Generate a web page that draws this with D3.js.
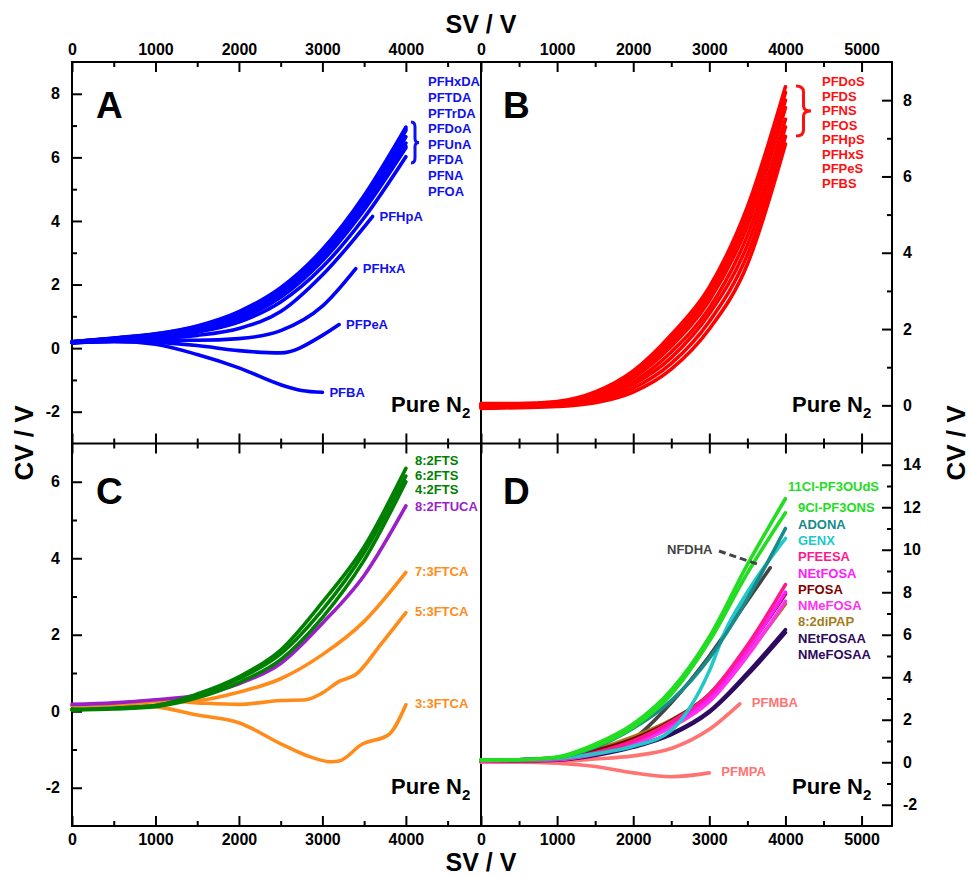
<!DOCTYPE html>
<meta charset="utf-8">

<head>
  <title>cv-sv-pfas</title>
</head>

<style>
  body {
    margin: 0;
    background: #fff;
  }

  svg text {
    font-family: Arial, "Liberation Sans", sans-serif;
    font-weight: bold;
  }

  .tick line {
    stroke: #000;
    stroke-width: 2;
  }

  .tick text {
    font-size: 16px;
    fill: #000;
  }

  .curve {
    fill: none;
    stroke-width: 3.6;
    stroke-linecap: round;
    stroke-linejoin: round;
  }
</style>

<body>
  <div id="content">
    <svg width="971" height="878">
    </svg>
  </div>

  <script src="https://cdnjs.cloudflare.com/ajax/libs/d3/7.8.5/d3.min.js"></script>
  <script>
    // common SV steps (V)
    var svGrid = [0, 500, 1000, 1500, 2000, 2500, 3000, 3500, 4000]

    // ---- panel A : PFCAs
    var namesA = ['PFHxDA', 'PFTDA', 'PFTrDA', 'PFDoA', 'PFUnA', 'PFDA', 'PFNA', 'PFOA',
      'PFHpA', 'PFHxA', 'PFPeA', 'PFBA']
    var svA = [svGrid, svGrid, svGrid, svGrid, svGrid, svGrid, svGrid, svGrid,
      [0, 500, 1000, 1500, 2000, 2500, 3000, 3600],
      [0, 500, 1000, 1500, 2000, 2500, 3000, 3400],
      [0, 500, 1000, 1500, 2000, 2500, 3000, 3200],
      [0, 500, 1000, 1500, 2000, 2500, 2750, 3000]
    ]
    var cvA = [
      [0.2, 0.32, 0.45, 0.7, 1.15, 1.9, 3.1, 4.8, 6.95],
      [0.2, 0.31, 0.44, 0.68, 1.1, 1.85, 3.0, 4.75, 6.9],
      [0.2, 0.3, 0.42, 0.65, 1.05, 1.8, 2.95, 4.65, 6.85],
      [0.2, 0.3, 0.4, 0.62, 1.0, 1.75, 2.9, 4.55, 6.65],
      [0.18, 0.28, 0.38, 0.6, 0.98, 1.7, 2.85, 4.45, 6.45],
      [0.18, 0.28, 0.37, 0.58, 0.95, 1.65, 2.8, 4.4, 6.35],
      [0.17, 0.27, 0.36, 0.55, 0.9, 1.6, 2.75, 4.35, 6.3],
      [0.17, 0.26, 0.33, 0.5, 0.82, 1.45, 2.55, 4.1, 6.02],
      [0.17, 0.25, 0.3, 0.4, 0.62, 1.15, 2.3, 4.14],
      [0.17, 0.22, 0.25, 0.25, 0.3, 0.55, 1.32, 2.5],
      [0.17, 0.2, 0.18, 0.08, -0.08, -0.15, 0.4, 0.74],
      [0.17, 0.22, 0.12, -0.2, -0.62, -1.15, -1.33, -1.39]
    ]

    // ---- panel B : PFSAs
    var namesB = ['PFDoS', 'PFDS', 'PFNS', 'PFOS', 'PFHpS', 'PFHxS', 'PFPeS', 'PFBS']
    var cvB = [
      [0.05, 0.05, 0.1, 0.35, 0.9, 1.85, 3.1, 5.2, 8.35],
      [0.04, 0.04, 0.08, 0.32, 0.85, 1.75, 3.0, 5.05, 8.2],
      [0.02, 0.03, 0.06, 0.28, 0.8, 1.65, 2.9, 4.9, 8.0],
      [0.0, 0.01, 0.04, 0.25, 0.72, 1.55, 2.75, 4.7, 7.8],
      [-0.02, 0.0, 0.03, 0.2, 0.62, 1.4, 2.55, 4.45, 7.5],
      [-0.04, -0.02, 0.02, 0.16, 0.55, 1.25, 2.4, 4.2, 7.3],
      [-0.06, -0.04, 0.0, 0.12, 0.45, 1.1, 2.2, 3.95, 7.05],
      [-0.08, -0.06, -0.03, 0.07, 0.35, 0.95, 2.0, 3.7, 6.85]
    ]

    // ---- panel C : fluorotelomers
    var namesC = ['8:2FTS', '6:2FTS', '4:2FTS', '8:2FTUCA', '7:3FTCA', '5:3FTCA', '3:3FTCA']
    var svC = [svGrid, svGrid, svGrid, svGrid, svGrid,
      [0, 500, 1000, 1500, 2000, 2500, 2800, 3000, 3200, 3400, 3700, 4000],
      [0, 500, 1000, 1500, 2000, 2500, 2800, 3100, 3200, 3470, 3800, 4000]
    ]
    var cvC = [
      [0.05, 0.08, 0.15, 0.45, 0.9, 1.6, 2.85, 4.3, 6.35],
      [0.05, 0.08, 0.15, 0.42, 0.85, 1.5, 2.65, 4.15, 6.15],
      [0.03, 0.06, 0.12, 0.35, 0.75, 1.35, 2.45, 3.95, 6.0],
      [0.18, 0.22, 0.3, 0.42, 0.72, 1.25, 2.3, 3.55, 5.37],
      [0.15, 0.18, 0.25, 0.28, 0.5, 0.85, 1.48, 2.35, 3.63],
      [0.15, 0.2, 0.28, 0.22, 0.18, 0.28, 0.3, 0.48, 0.78, 0.96, 1.75, 2.58],
      [0.15, 0.18, 0.12, -0.1, -0.3, -0.85, -1.15, -1.32, -1.3, -0.87, -0.6, 0.17]
    ]

    // ---- panel D : others
    var namesD = ['11Cl-PF3OUdS', '9Cl-PF3ONS', 'ADONA', 'GENX', 'PFEESA', 'NEtFOSA', 'PFOSA',
      'NMeFOSA', '8:2diPAP', 'NEtFOSAA', 'NMeFOSAA', 'NFDHA', 'PFMBA', 'PFMPA']
    var svD = [svGrid, svGrid, svGrid,
      [0, 500, 1000, 1500, 2000, 2500, 2750, 3000, 3200, 3500, 4000],
      svGrid, svGrid, svGrid, svGrid, svGrid, svGrid, svGrid,
      [0, 500, 1000, 1500, 2000, 2500, 3000, 3500, 3800],
      [0, 500, 1000, 1500, 2000, 2500, 3000, 3400],
      [0, 500, 1000, 1500, 2000, 2500, 3000]
    ]
    var cvD = [
      [0.1, 0.12, 0.25, 0.85, 1.8, 3.4, 5.9, 9.3, 12.4],
      [0.1, 0.12, 0.22, 0.75, 1.65, 3.2, 5.7, 8.9, 11.74],
      [0.1, 0.12, 0.22, 0.7, 1.6, 2.9, 4.9, 7.7, 11.0],
      [0.1, 0.12, 0.18, 0.4, 0.75, 1.5, 2.6, 4.3, 6.1, 8.0, 10.53],
      [0.1, 0.1, 0.15, 0.45, 1.0, 1.9, 3.2, 5.5, 8.36],
      [0.08, 0.1, 0.15, 0.42, 0.95, 1.8, 3.05, 5.3, 8.0],
      [0.1, 0.12, 0.2, 0.55, 1.1, 1.95, 3.2, 5.35, 7.92],
      [0.05, 0.08, 0.12, 0.38, 0.85, 1.65, 2.85, 5.0, 7.58],
      [0.1, 0.12, 0.22, 0.6, 1.2, 2.0, 3.15, 5.1, 7.45],
      [0.05, 0.08, 0.12, 0.35, 0.75, 1.35, 2.4, 4.2, 6.24],
      [0.05, 0.07, 0.1, 0.32, 0.7, 1.3, 2.35, 4.1, 6.1],
      [0.1, 0.12, 0.2, 0.5, 1.1, 2.8, 5.0, 7.6, 9.15],
      [0.05, 0.05, 0.05, 0.15, 0.3, 0.65, 1.55, 2.75],
      [0.0, 0.0, -0.05, -0.2, -0.5, -0.68, -0.5]
    ]
    var colorsD = ['#22dd22', '#22dd22', '#178a8a', '#22c8c8', '#ff1a8c', '#ff1aff', '#800000',
      '#ff33ee', '#a57c1b', '#2e0a60', '#2e0a60', '#444444', '#ff7373', '#ff7373']
    var colorsC = ['#008000', '#008000', '#008000', '#9a1fc8', '#ff8c1a', '#ff8c1a', '#ff8c1a']

    // tick values
    var svTicksL = [0, 1000, 2000, 3000, 4000]
    var svTicksR = [0, 1000, 2000, 3000, 4000, 5000]

    // ---------------------------------------------------------------
    var svg = d3.select('svg')
    var L = 72, M = 481, R = 892, T = 62, H = 443.5, B = 826

    var xL = d3.scaleLinear().domain([0, 4900]).range([L, M])
    var xR = d3.scaleLinear().domain([0, 5400]).range([M, R])
    var yA = d3.scaleLinear().domain([-3, 9]).range([H, T])
    var yB = d3.scaleLinear().domain([-1, 9]).range([H, T])
    var yC = d3.scaleLinear().domain([-3, 7]).range([B, H])
    var yD = d3.scaleLinear().domain([-3, 15]).range([B, H])

    function fmt(d) {
      return String(d)
    }

    function minorOf(scale, step, majors) {
      var d = scale.domain(), out = []
      for (var v = Math.ceil(d[0] / step) * step; v <= d[1]; v += step) {
        if (majors.indexOf(v) < 0 && v > d[0] && v < d[1]) out.push(v)
      }
      return out
    }

    function axis(axisFn, scale, pos, majors, minorStep, labels, pad) {
      var g = svg.append('g').attr('transform', pos)
      g.call(axisFn(scale).tickValues(majors).tickSize(-10).tickPadding(pad)
        .tickFormat(labels ? fmt : ''))
      g.append('g').call(axisFn(scale).tickValues(minorOf(scale, minorStep, majors))
        .tickSize(-5).tickFormat(''))
      g.selectAll('.domain').remove()
      g.selectAll('text').attr('font-family', null).attr('font-size', null)
      return g
    }

    // x axes
    axis(d3.axisTop, xL, 'translate(0,' + T + ')', svTicksL, 500, true, 7)
    axis(d3.axisBottom, xL, 'translate(0,' + H + ')', svTicksL, 500, false, 0)
    axis(d3.axisTop, xL, 'translate(0,' + H + ')', svTicksL, 500, false, 0)
    axis(d3.axisBottom, xL, 'translate(0,' + B + ')', svTicksL, 500, true, 8)
    axis(d3.axisTop, xR, 'translate(0,' + T + ')', svTicksR, 500, true, 7)
    axis(d3.axisBottom, xR, 'translate(0,' + H + ')', svTicksR, 500, false, 0)
    axis(d3.axisTop, xR, 'translate(0,' + H + ')', svTicksR, 500, false, 0)
    axis(d3.axisBottom, xR, 'translate(0,' + B + ')', svTicksR, 500, true, 8)

    // y axes
    axis(d3.axisLeft, yA, 'translate(' + L + ',0)', [-2, 0, 2, 4, 6, 8], 1, true, 12)
    axis(d3.axisLeft, yC, 'translate(' + L + ',0)', [-2, 0, 2, 4, 6], 1, true, 12)
    axis(d3.axisRight, yB, 'translate(' + R + ',0)', [0, 2, 4, 6, 8], 1, true, 11)
    axis(d3.axisRight, yD, 'translate(' + R + ',0)', [-2, 0, 2, 4, 6, 8, 10, 12, 14], 1, true, 11)

    // frame
    svg.append('rect').attr('x', L).attr('y', T).attr('width', R - L).attr('height', B - T)
      .attr('fill', 'none').attr('stroke', '#000').attr('stroke-width', 2)
    svg.append('line').attr('x1', M).attr('x2', M).attr('y1', T).attr('y2', B)
      .attr('stroke', '#000').attr('stroke-width', 2)
    svg.append('line').attr('x1', L).attr('x2', R).attr('y1', H).attr('y2', H)
      .attr('stroke', '#000').attr('stroke-width', 2)

    // axis titles
    svg.append('text').attr('x', M).attr('y', 33).attr('text-anchor', 'middle')
      .attr('font-size', 25).text('SV / V')
    svg.append('text').attr('x', M).attr('y', 871).attr('text-anchor', 'middle')
      .attr('font-size', 25).text('SV / V')
    svg.append('text').attr('transform', 'translate(33,' + 443 + ') rotate(-90)')
      .attr('text-anchor', 'middle').attr('font-size', 26).text('CV / V')
    svg.append('text').attr('transform', 'translate(965,' + 443 + ') rotate(-90)')
      .attr('text-anchor', 'middle').attr('font-size', 26).text('CV / V')

    // curves
    function drawCurves(x, y, svs, cvs, colors) {
      var line = d3.line()
        .x(function(d) { return x(d[0]) })
        .y(function(d) { return y(d[1]) })
        .curve(d3.curveMonotoneX)
      var data = cvs.map(function(cv, i) {
        return { pts: d3.zip(svs[i], cv), color: colors[i] }
      })
      svg.append('g').selectAll('path')
        .data(data.slice().reverse())
        .enter()
        .append('path')
        .attr('class', 'curve')
        .attr('stroke', function(d) { return d.color })
        .attr('d', function(d) { return line(d.pts) })
    }

    drawCurves(xL, yA, svA, cvA, namesA.map(function() { return '#0000ff' }))
    drawCurves(xR, yB, namesB.map(function() { return svGrid }), cvB, namesB.map(function() { return '#ff0000' }))
    drawCurves(xL, yC, svC, cvC, colorsC)
    drawCurves(xR, yD, svD, cvD, colorsD)

    function label(x, y, txt, color) {
      svg.append('text').attr('x', x).attr('y', y).attr('dy', '0.36em')
        .attr('font-size', 13).attr('fill', color).text(txt)
    }

    function endOf(i, svs, cvs) {
      return [svs[i][svs[i].length - 1], cvs[i][cvs[i].length - 1]]
    }

    // labels A
    namesA.forEach(function(n, i) {
      if (i < 8) label(428, 81.7 + i * 15.6, n, '#1010f0')
      else {
        var e = endOf(i, svA, cvA)
        label(xL(e[0]) + 7, yA(e[1]), n, '#1010f0')
      }
    })
    // labels B
    namesB.forEach(function(n, i) {
      label(822, 81.7 + i * 14.5, n, '#ff1010')
    })
    // labels C
    namesC.forEach(function(n, i) {
      if (i < 4) label(415, [460, 475, 489.5, 506.5][i], n, colorsC[i])
      else {
        var e = endOf(i, svC, cvC)
        label(xL(e[0]) + 9, yC(e[1]) - 1.5, n, colorsC[i])
      }
    })
    // labels D
    namesD.forEach(function(n, i) {
      if (i === 0) label(788, 486.7, n, colorsD[i])
      else if (i < 11) label(798, 507.7 + (i - 1) * 16.3, n, colorsD[i])
      else if (i === 11) label(667, 549, n, colorsD[i])
      else {
        var e = endOf(i, svD, cvD)
        label(xR(e[0]) + 12, yD(e[1]) - 1.5, n, colorsD[i])
      }
    })

    // NFDHA leader
    svg.append('line').attr('x1', 719).attr('y1', 551).attr('x2', 757).attr('y2', 564)
      .attr('stroke', '#444').attr('stroke-width', 3).attr('stroke-dasharray', '7,4')

    // braces
    function brace(x, y0, y1, w, color) {
      var h = y1 - y0, m = (y0 + y1) / 2, c = x + w / 2
      var p = 'M' + x + ',' + y0 +
        'Q' + c + ',' + y0 + ' ' + c + ',' + (y0 + h * 0.12) +
        'L' + c + ',' + (m - h * 0.1) +
        'Q' + c + ',' + m + ' ' + (x + w) + ',' + m +
        'Q' + c + ',' + m + ' ' + c + ',' + (m + h * 0.1) +
        'L' + c + ',' + (y1 - h * 0.12) +
        'Q' + c + ',' + y1 + ' ' + x + ',' + y1
      svg.append('path').attr('d', p).attr('fill', 'none').attr('stroke', color)
        .attr('stroke-width', 3)
    }
    brace(411, 122, 163, 8, '#1010f0')
    brace(796, 86, 136, 15, '#ff1010')

    // panel letters
    var letters = [['A', 96, 118], ['B', 503, 118], ['C', 96, 504], ['D', 503, 504]]
    letters.forEach(function(d) {
      svg.append('text').attr('x', d[1]).attr('y', d[2]).attr('font-size', 37).text(d[0])
    })

    // Pure N2
    var pure = [[391, 411.5], [792, 411.5], [391, 794], [792, 794]]
    pure.forEach(function(d) {
      var t = svg.append('text').attr('x', d[0]).attr('y', d[1]).attr('font-size', 22)
      t.append('tspan').text('Pure N')
      t.append('tspan').attr('font-size', 15).attr('dy', 6).text('2')
    })
  </script>
</body>

</html>
